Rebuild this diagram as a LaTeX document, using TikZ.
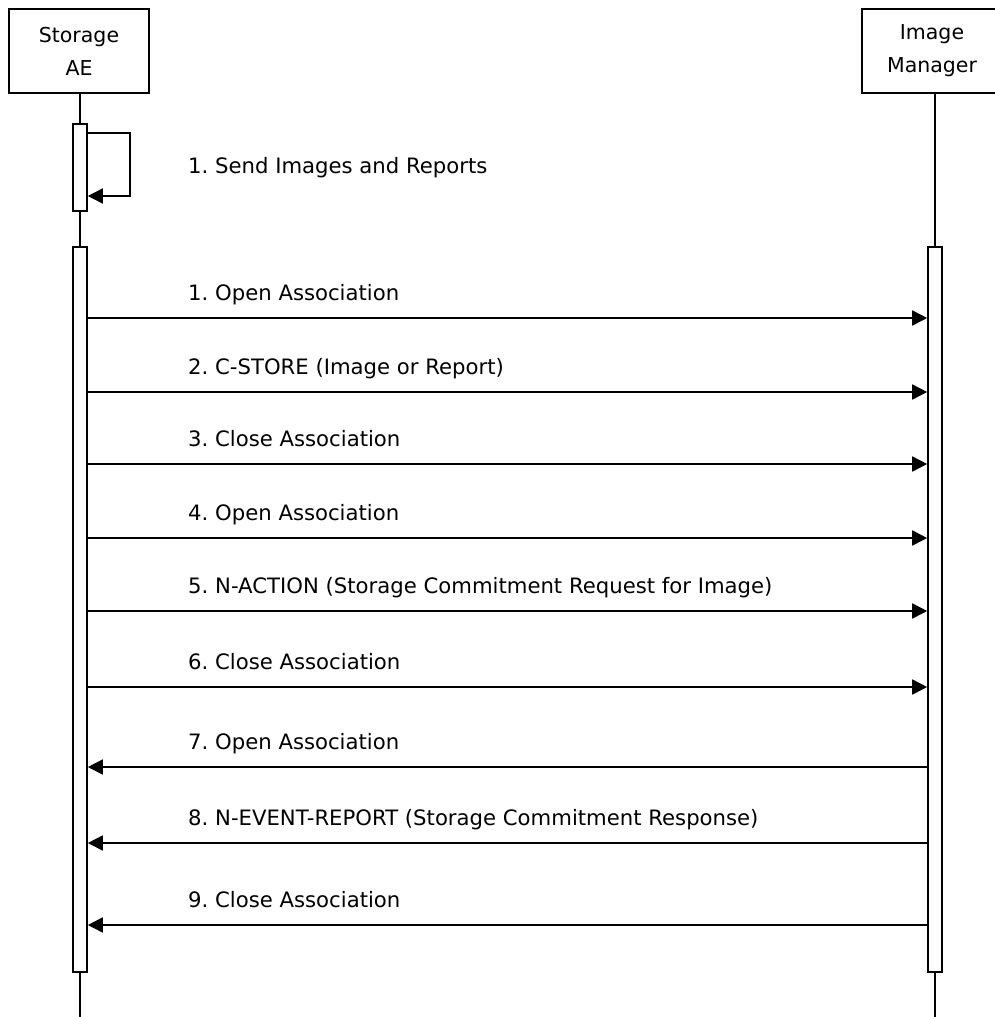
\documentclass[tikz,border=0pt]{standalone}
\usepackage{fontspec}
\setmainfont{DejaVu Sans}
\usepackage{tikz}
\usetikzlibrary{arrows.meta}
\frenchspacing

\tikzset{
  head/.style={draw, line width=1.6pt, minimum width=140, minimum height=84, align=center, font=\fontsize{20.5}{33}\selectfont},
  actbar/.style={draw, fill=white, line width=1.6pt, minimum width=14, inner sep=0pt},
  msg/.style={line width=1.6pt, -{Triangle[length=15pt, width=15pt]}},
  lbl/.style={anchor=base west, inner sep=0pt, font=\fontsize{21.2}{24}\selectfont}
}

\begin{document}
\begin{tikzpicture}[x=1pt, y=-1pt]
		\useasboundingbox (0,0) rectangle (995,1017);

		% Lifeline heads
		\node[head] (sae) at (79,51) {Storage\\AE};
		\node[head] (imgr) at (932,51) {Image\\Manager};

		% Activation bars
		\node[actbar, minimum height=87] (selfact) at (80,167.5) {};
		\node[actbar, minimum height=725] (actS) at (80,609.5) {};
		\node[actbar, minimum height=725] (actI) at (935,609.5) {};
		\coordinate (endS) at (80,1017);
		\coordinate (endI) at (935,1017);

		% Lifelines
		\draw[line width=1.6pt] (selfact.north) -- (selfact.north |- sae.south);
		\draw[line width=1.6pt] (selfact.south) -- (actS.north);
		\draw[line width=1.6pt] (actS.south) -- (endS);
		\draw[line width=1.6pt] (actI.north) -- (actI.north |- imgr.south);
		\draw[line width=1.6pt] (actI.south) -- (endI);

		% Self message
		\coordinate (loopA) at (130,133);
		\coordinate (loopB) at (130,196);
		\draw[msg] (selfact.east |- loopA) -- (loopA) -- (loopB) -- (selfact.east |- loopB);
		\node[lbl] (send) at (188,173) {1. Send Images and Reports};

		% Requests
		\foreach \y/\txt [count=\i] in {318/1. Open Association, 392/2. C-STORE (Image or Report), 464/3. Close Association, 538/4. Open Association, 611/5. N-ACTION (Storage Commitment Request for Image), 687/6. Close Association}{
			\coordinate (rq\i) at (0,\y);
			\draw[msg] (actS.east |- rq\i) -- (actI.west |- rq\i);
			\node[lbl] (rqt\i) at (188,\y-18) {\txt};
		}

		% Responses
		\foreach \y/\txt [count=\i] in {767/7. Open Association, 843/8. N-EVENT-REPORT (Storage Commitment Response), 925/9. Close Association}{
			\coordinate (rs\i) at (0,\y);
			\draw[msg] (actI.west |- rs\i) -- (actS.east |- rs\i);
			\node[lbl] (rst\i) at (188,\y-18) {\txt};
		}
	\end{tikzpicture}
\end{document}
